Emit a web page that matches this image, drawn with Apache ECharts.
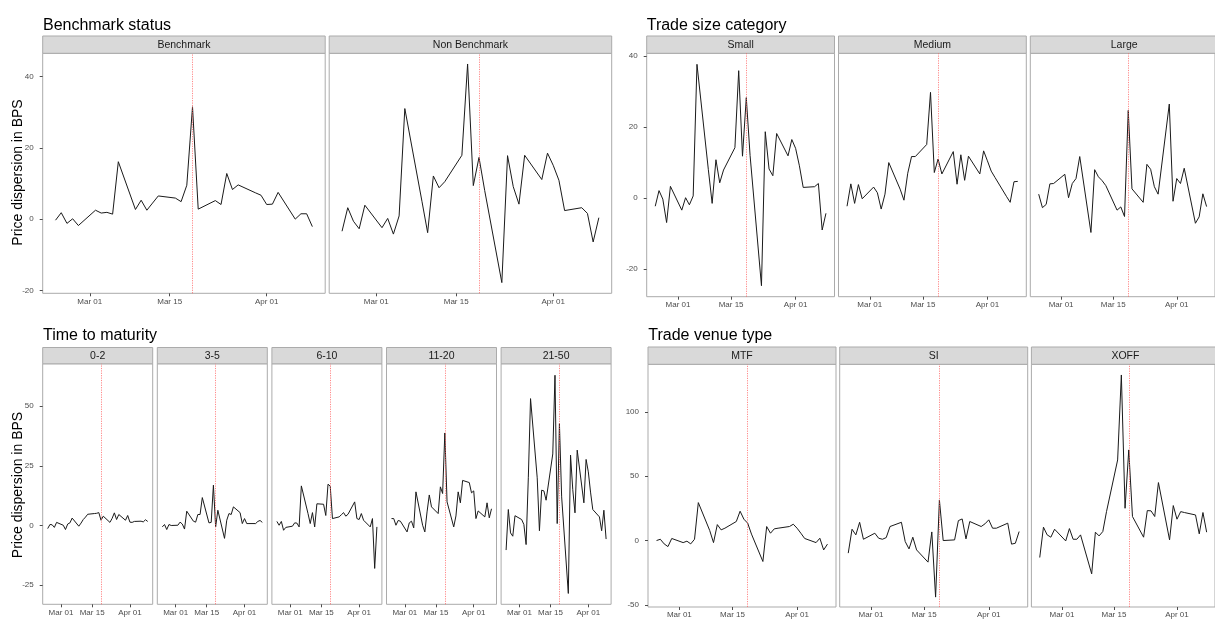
<!DOCTYPE html>
<html>
<head>
<meta charset="utf-8">
<script src="https://cdn.jsdelivr.net/npm/echarts@6/dist/echarts.min.js"></script>
<style>
  html, body { margin: 0; padding: 0; background: #ffffff; }
  #chart { width: 1215px; height: 619px; }
</style>
</head>
<body>
<div id="chart"></div>
<script>
// Trading days covered by every panel
const dates = [
  '2020-02-24','2020-02-25','2020-02-26','2020-02-27','2020-02-28',
  '2020-03-02','2020-03-03','2020-03-04','2020-03-05','2020-03-06',
  '2020-03-09','2020-03-10','2020-03-11','2020-03-12','2020-03-13',
  '2020-03-16','2020-03-17','2020-03-18','2020-03-19','2020-03-20',
  '2020-03-23','2020-03-24','2020-03-25','2020-03-26','2020-03-27',
  '2020-03-30','2020-03-31','2020-04-01','2020-04-02','2020-04-03',
  '2020-04-06','2020-04-07','2020-04-08','2020-04-09'
];
const eventDate = '2020-03-19';
const xTickDates = ['2020-03-01', '2020-03-15', '2020-04-01'];
const xTickLabels = ['Mar 01', 'Mar 15', 'Apr 01'];

// Price dispersion (bps) by benchmark status
const benchmark    = [-0.3, 1.8, -1.2, 0.1, -1.8, 2.5, 1.7, 1.9, 1.4, 16.1, 2.7, 5.3, 2.5, 4.5, 6.5, 5.9, 4.9, 9.5, 31.5, 2.8, 5.2, 4.1, 12.8, 8.3, 9.6, 7.4, 6.7, 4.1, 4.2, 7.5, 0.0, 1.5, 1.5, -2.1];
const nonBenchmark = [-3.4, 3.2, -0.6, -2.7, 3.9, -2.4, 0.2, -4.2, 0.9, 31.0, 5.0, -3.8, 12.1, 8.8, 10.5, 17.9, 43.5, 9.4, 17.3, 8.0, -17.8, 17.8, 9.1, 4.2, 17.9, 11.1, 18.5, 15.1, 10.9, 2.4, 3.2, 1.6, -6.4, 0.4];

// By trade size category
const sizeSmall  = [-2.3, 2.1, -0.3, -6.9, 3.3, -3.4, 0.1, -1.9, 0.6, 37.7, 8.0, -1.5, 10.8, 4.3, 7.9, 14.2, 35.9, 11.8, 28.3, 12.0, -24.7, 18.7, 8.2, 6.3, 18.2, 11.9, 16.5, 14.0, 9.1, 3.0, 3.2, 4.1, -9.0, -4.3];
const sizeMedium = [-2.3, 4.0, -1.5, 3.8, -0.2, 3.1, 1.5, -3.1, 1.1, 10.0, 2.5, -0.6, 7.0, 11.7, 11.7, 15.1, 29.8, 7.2, 11.0, 6.8, 13.1, 3.9, 12.2, 5.0, 11.8, 6.8, 13.3, 10.5, 7.6, 5.8, 0.5, -1.2, 4.6, 4.7];
const sizeLarge  = [1.1, -2.7, -1.8, 4.0, 4.1, 6.7, 0.1, 4.1, 5.5, 11.7, -9.7, 8.0, 6.0, 4.9, 3.5, -3.4, -2.5, -5.2, 24.7, 2.6, -1.2, 9.5, 8.1, 3.2, 1.1, 26.5, -0.9, 5.5, 4.1, 8.4, -7.1, -5.3, 1.2, -2.4];

// By time to maturity (years)
const ttm0to2   = [-1.3, 0.4, 0.3, -0.8, 1.3, 0.1, -1.7, 0.6, 1.1, 3.1, -0.3, 1.0, 2.5, 3.5, 4.7, 5.0, 5.1, 5.4, 2.2, 3.9, 1.3, 3.0, 5.3, 2.5, 4.6, 2.2, 4.2, 1.4, 1.3, 1.7, 1.8, 1.5, 2.4, 1.7];
const ttm3to5   = [-0.6, 0.4, -1.7, 0.4, 0.0, 0.1, 1.4, 0.6, -1.5, 6.0, 1.8, 1.4, 4.6, 4.6, 11.7, 1.1, 1.3, 16.9, -0.6, 6.4, -5.4, 2.2, 5.0, 4.6, 7.8, 5.4, 0.8, 2.9, 0.8, 0.8, 0.8, 1.7, 2.1, 1.3];
const ttm6to10  = [1.7, 0.1, 1.7, -2.0, -0.8, -0.3, 1.1, 1.0, -0.6, 16.6, 5.0, 0.8, 5.4, -0.6, 9.1, 8.9, 4.2, 17.3, 16.5, 2.9, 3.6, 4.5, 5.4, 3.9, 4.7, 9.9, 2.9, 2.5, 5.0, 2.2, -0.6, 2.9, -18.0, -0.6];
const ttm11to20 = [2.9, 2.9, 0.1, 2.1, 1.8, -2.7, 1.1, 1.8, -1.0, 14.1, 0.1, -2.7, 5.7, 12.8, 7.8, 5.0, 16.2, 13.4, 38.8, 9.9, -0.6, 4.0, 14.1, 9.5, 18.9, 18.0, 13.7, 14.5, 2.9, 6.1, 3.6, 9.5, 3.2, 7.0];
const ttm21to50 = [-10.3, 6.7, -3.1, -4.5, 4.1, 2.5, 0.4, -8.0, 20.0, 53.2, 20.0, -2.2, 14.8, 14.5, 10.6, 30.0, 63.0, 0.8, 42.7, 12.0, -28.5, 29.5, 15.0, 5.3, 31.6, 9.5, 27.7, 22.5, 14.0, 6.7, 3.6, -2.2, 6.4, -5.7];

// By trade venue type
const venueMTF  = [0.0, 1.0, -2.6, -4.7, 1.6, -1.6, -0.5, -2.6, 1.0, 29.5, 7.8, -1.6, 12.4, 8.3, 9.6, 14.8, 22.8, 16.6, 13.5, 5.0, -16.3, 10.9, 5.7, 9.1, 9.6, 10.9, 12.7, 9.6, 5.7, 1.6, -1.6, 1.8, -7.3, -2.8];
const venueSI   = [-9.8, 8.8, 4.4, 14.2, 1.0, 5.7, 1.8, 1.0, 2.3, 10.9, 14.2, -0.8, -6.5, 2.6, -7.3, -16.8, 6.7, -44.0, 31.6, 0.0, 0.5, 15.5, 16.8, 1.3, 14.8, 10.9, 13.0, 16.1, 9.6, 9.6, 13.5, -2.8, -2.1, 7.0];
const venueXOFF = [-13.2, 10.4, 4.4, 2.6, 8.8, -0.3, 9.3, 1.0, 1.0, 4.4, -25.9, 6.5, 3.6, 7.0, 22.5, 62.7, 128.8, 25.1, 70.5, 18.7, 2.6, 23.3, 23.1, 18.7, 45.1, 0.5, 27.2, 16.6, 22.5, 21.8, 19.9, 5.2, 21.8, 6.5];

// Facet titles and y tick values per block
const blockTitles = ['Benchmark status', 'Trade size category', 'Time to maturity', 'Trade venue type'];
const yTicksBenchmark = [-20, 0, 20, 40];
const yTicksSize = [-20, 0, 20, 40];
const yTicksMaturity = [-25, 0, 25, 50];
const yTicksVenue = [-50, 0, 50, 100];
const yAxisTitle = 'Price dispersion in BPS';

// ---- helpers --------------------------------------------------------------
const DAY = 86400000;
const origin = Date.parse('2020-03-01');
const toDay = s => (Date.parse(s) - origin) / DAY;
const xs = dates.map(toDay);
const xTicks = xTickDates.map(toDay);
const xMin = xs[0] - (xs[xs.length - 1] - xs[0]) * 0.05;
const xMax = xs[xs.length - 1] + (xs[xs.length - 1] - xs[0]) * 0.05;

const FONT = 'Liberation Sans, Arial, sans-serif';
const BORDER = '#ababab';

// Block layout: panel boxes in pixels, y range
const blocks = [
  { title: blockTitles[0], tx: 43, ty: 23.8, yMin: -20.8, yMax: 46.5, yTicks: yTicksBenchmark,
    top: 53.3, height: 240, stripH: 17.3, width: 282.5, lefts: [42.7, 329.2],
    panels: [['Benchmark', benchmark], ['Non Benchmark', nonBenchmark]] },
  { title: blockTitles[1], tx: 646.7, ty: 23.8, yMin: -27.8, yMax: 40.8, yTicks: yTicksSize,
    top: 53.3, height: 243.4, stripH: 17.3, width: 187.8, lefts: [646.7, 838.5, 1030.3],
    panels: [['Small', sizeSmall], ['Medium', sizeMedium], ['Large', sizeLarge]] },
  { title: blockTitles[2], tx: 43, ty: 334.5, yMin: -33.05, yMax: 67.8, yTicks: yTicksMaturity,
    top: 363.8, height: 240.5, stripH: 16.3, width: 110, lefts: [42.7, 157.3, 271.9, 386.5, 501.1],
    panels: [['0-2', ttm0to2], ['3-5', ttm3to5], ['6-10', ttm6to10], ['11-20', ttm11to20], ['21-50', ttm21to50]] },
  { title: blockTitles[3], tx: 648.3, ty: 334.5, yMin: -51.7, yMax: 137.1, yTicks: yTicksVenue,
    top: 364.3, height: 243, stripH: 17.3, width: 188, lefts: [648, 839.7, 1031.4],
    panels: [['MTF', venueMTF], ['SI', venueSI], ['XOFF', venueXOFF]] }
];

const grid = [], xAxis = [], yAxis = [], series = [], graphic = [];

blocks.forEach(b => {
  graphic.push({
    type: 'text', left: b.tx, top: b.ty - 6.5, z: 10,
    style: { text: b.title, font: '16px ' + FONT, fill: '#000000' }
  });
  b.panels.forEach((p, j) => {
    const idx = grid.length;
    const left = b.lefts[j];
    grid.push({
      left: left, top: b.top, width: b.width, height: b.height,
      show: true, borderColor: BORDER, borderWidth: 1, backgroundColor: '#ffffff',
      containLabel: false
    });
    xAxis.push({
      type: 'value', gridIndex: idx, min: xMin, max: xMax, position: 'bottom',
      splitLine: { show: false },
      axisLine: { show: false, onZero: false },
      axisTick: { show: true, length: 3, customValues: xTicks, lineStyle: { color: '#4d4d4d', width: 1 } },
      axisLabel: {
        show: true, customValues: xTicks, margin: 4,
        fontFamily: FONT, fontSize: 8, color: '#4d4d4d',
        formatter: v => xTickLabels[xTicks.indexOf(v)] || ''
      }
    });
    yAxis.push({
      type: 'value', gridIndex: idx, min: b.yMin, max: b.yMax, position: 'left',
      splitLine: { show: false },
      axisLine: { show: false, onZero: false },
      axisTick: { show: j === 0, length: 3, customValues: b.yTicks, lineStyle: { color: '#4d4d4d', width: 1 } },
      axisLabel: {
        show: j === 0, customValues: b.yTicks, margin: 9,
        fontFamily: FONT, fontSize: 8, color: '#4d4d4d'
      }
    });
    series.push({
      type: 'line', xAxisIndex: idx, yAxisIndex: idx,
      data: xs.map((x, k) => [x, p[1][k]]),
      showSymbol: false, symbol: 'none',
      lineStyle: { color: '#1a1a1a', width: 1 },
      silent: true,
      markLine: {
        silent: true, symbol: 'none',
        label: { show: false },
        lineStyle: { color: '#ff5a5a', type: [1.2, 1.2], width: 0.8, opacity: 0.9 },
        data: [{ xAxis: toDay(eventDate) }]
      },
      z: 3
    });
    // facet strip
    graphic.push({
      type: 'rect', z: 5,
      shape: { x: left, y: b.top - b.stripH, width: b.width, height: b.stripH },
      style: { fill: '#d9d9d9', stroke: BORDER, lineWidth: 1 }
    });
    graphic.push({
      type: 'text', z: 6,
      x: left + b.width / 2, y: b.top - b.stripH / 2,
      style: { text: p[0], font: '10.5px ' + FONT, fill: '#1a1a1a', align: 'center', verticalAlign: 'middle' }
    });
  });
});

// shared y-axis titles for the left blocks
[172.5, 485].forEach(cy => {
  graphic.push({
    type: 'text', z: 6, x: 18.5, y: cy, rotation: Math.PI / 2,
    style: { text: yAxisTitle, font: '14px ' + FONT, fill: '#000000', align: 'center', verticalAlign: 'middle' }
  });
});

const chart = echarts.init(document.getElementById('chart'), null, { renderer: 'canvas' });
chart.setOption({
  animation: false,
  backgroundColor: '#ffffff',
  grid, xAxis, yAxis, series, graphic
});
</script>
</body>
</html>
